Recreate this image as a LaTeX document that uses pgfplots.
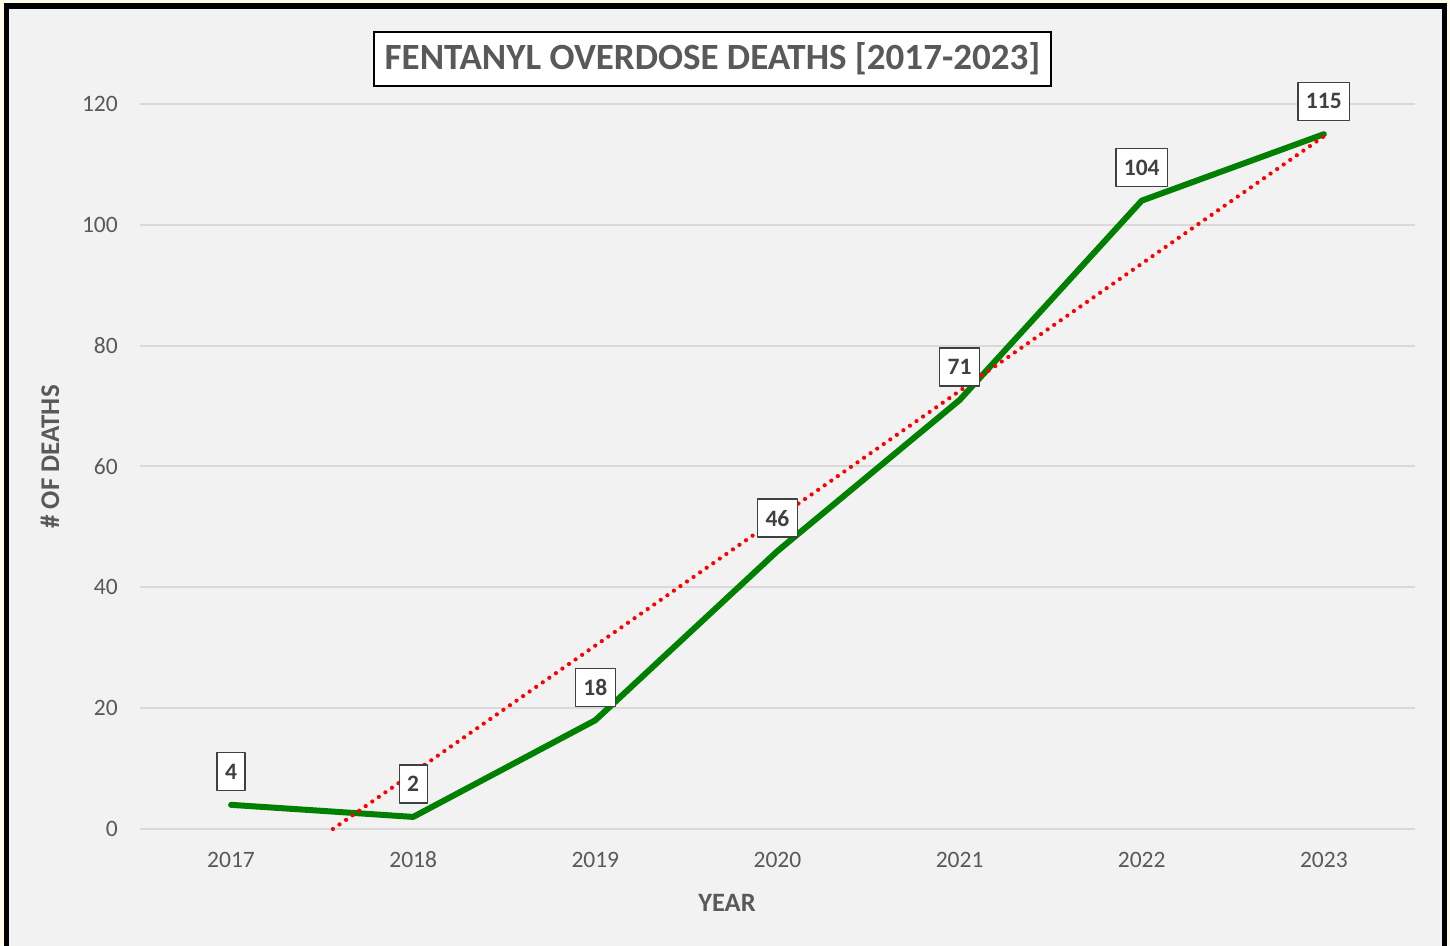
\documentclass[border=0pt]{standalone}
\usepackage{pgfplots}
\pgfplotsset{compat=1.18}
\usepackage{fontspec}
\setmainfont{Carlito}
\definecolor{cream}{RGB}{255,249,231}
\definecolor{bg}{RGB}{242,242,242}
\definecolor{gridc}{RGB}{217,217,217}
\definecolor{txt}{RGB}{89,89,89}
\definecolor{lbl}{RGB}{64,64,64}
\definecolor{exgreen}{RGB}{0,128,0}
\begin{document}
\begin{tikzpicture}
\useasboundingbox (-140pt,-116pt) rectangle (1310pt,829pt);
\fill[cream] (-140pt,-116pt) rectangle (1310pt,829pt);
\fill[black] (-136pt,826pt) rectangle (1307pt,-131pt);
\fill[bg] (-131pt,820pt) rectangle (1302pt,-131pt);
\begin{axis}[
  at={(0pt,0pt)}, anchor=south west,
  scale only axis, width=1275pt, height=725pt,
  xmin=0.5, xmax=7.5, ymin=0, ymax=120,
  xtick={1,2,3,4,5,6,7},
  xticklabels={2017,2018,2019,2020,2021,2022,2023},
  ytick={0,20,40,60,80,100,120},
  axis line style={draw=none},
  tick style={draw=none},
  ymajorgrids,
  grid style={draw=gridc, line width=2pt},
  /pgf/number format/assume math mode=true,
  ticklabel style={font=\fontsize{23.5}{27}\selectfont, text=txt},
  yticklabel style={anchor=east, inner sep=0pt, xshift=-22pt},
  xticklabel style={anchor=base, inner sep=0pt, yshift=-38pt},
  clip=false,
]
\addplot[exgreen, line width=6pt, line cap=round, line join=round,
  nodes near coords,
  point meta=explicit symbolic,
  nodes near coords align={center},
  every node near coord/.append style={anchor=center, yshift=33pt, draw=lbl, line width=1.3pt, fill=white,
    text=lbl, font=\fontsize{23.5}{26}\bfseries\selectfont, minimum height=38pt, inner xsep=8pt, inner ysep=0pt}]
  table[meta=l] {
x y l
1 4 4
2 2 2
3 18 18
4 46 46
5 71 71
6 104 104
7 115 115
};
\addplot[red, line width=4.2pt, line cap=round, dash pattern=on 0pt off 8pt]
  coordinates {(1.5593,0) (7,114.643)};
\end{axis}
\node[draw=black, line width=2pt, fill=white, text=txt, minimum width=677pt, minimum height=54pt, inner sep=0pt,
  font=\fontsize{37}{41}\bfseries\selectfont] at (572.5pt,770pt) {\raisebox{-2pt}{FENTANYL OVERDOSE DEATHS [2017-2023]}};
\node[text=txt, font=\fontsize{27}{31}\bfseries\selectfont, rotate=90] at (-90pt,372pt) {\# OF DEATHS};
\node[text=txt, font=\fontsize{26.5}{30}\bfseries\selectfont] at (587pt,-74pt) {YEAR};
\end{tikzpicture}
\end{document}
